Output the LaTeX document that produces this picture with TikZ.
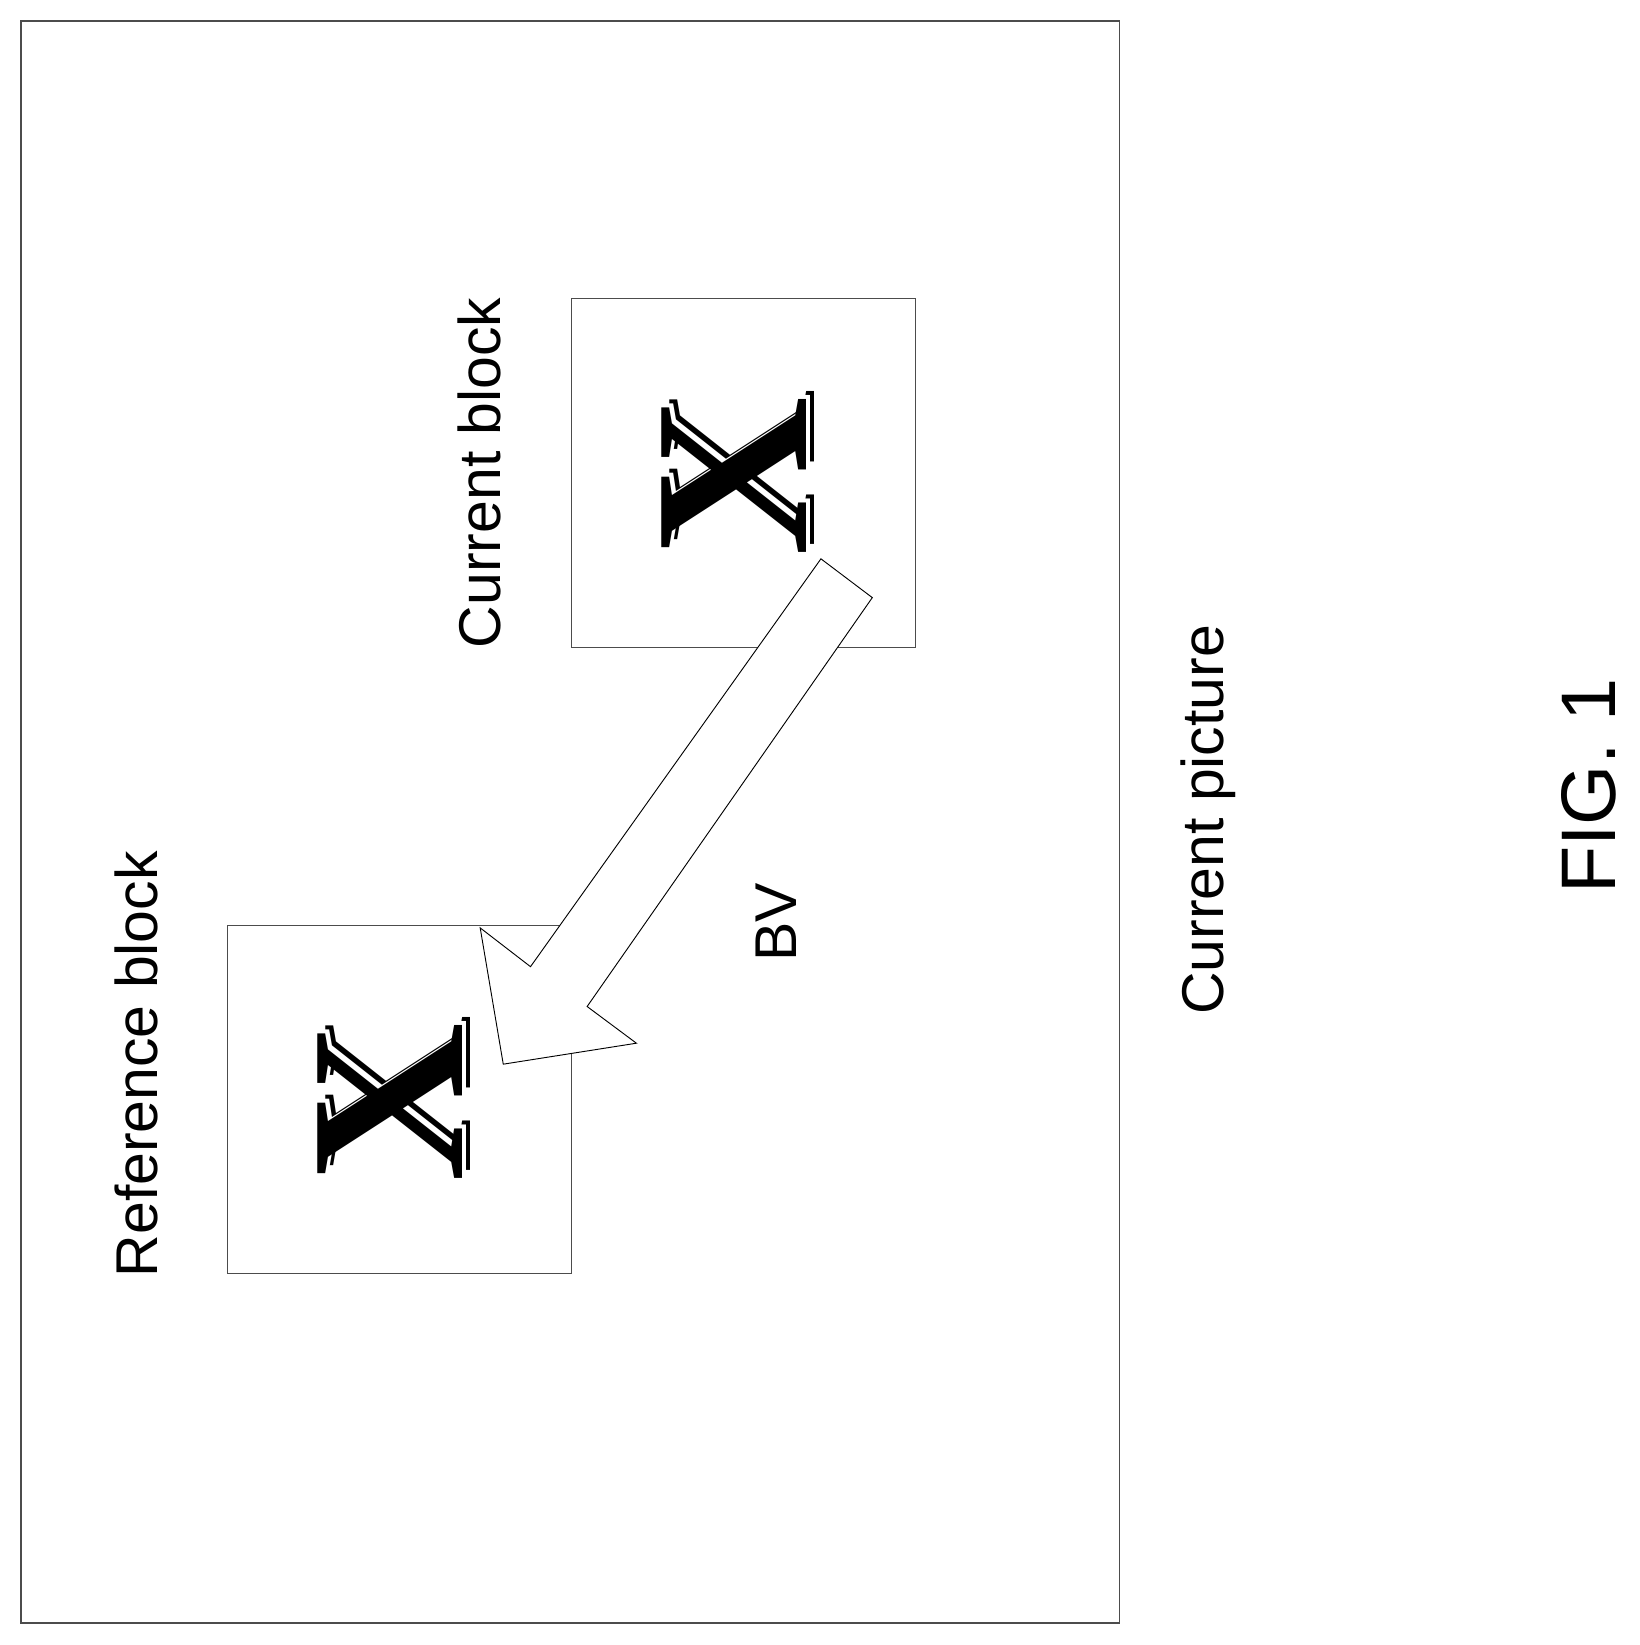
\documentclass[tikz,border=0pt]{standalone}
\usepackage{fontspec}
\setmainfont{Liberation Sans}
\newfontfamily\xfont{Liberation Serif}

\tikzset{
  blockbox/.style={draw=black!70, line width=0.6pt},
  rotlabel/.style={rotate=90, font=\fontsize{32}{34}\selectfont},
  bigx/.style={rotate=90, font=\xfont\bfseries\fontsize{120}{120}\selectfont, inner sep=0pt}
}

\begin{document}
\begin{tikzpicture}[x=0.02cm, y=-0.02cm]
    \useasboundingbox (0,0) rectangle (1564,1569);

    % --- Bild und Bloecke ---
    \draw[blockbox] (20,20) rectangle (1068,1548);
    \draw[blockbox] (545,285) rectangle (873,618);
    \draw[blockbox] (217,883) rectangle (545,1215);

    % --- Symbole in den Bloecken ---
    \node[bigx, black] at (708,447) {X};
    \node[bigx, white] at (704,451) {X};
    \node[bigx, black] (xcur) at (700,455) {X};
    \node[bigx, black] at (380,1044) {X};
    \node[bigx, white] at (376,1048) {X};
    \node[bigx, black] (xref) at (372,1052) {X};

    % --- Blockvektor ---
    \draw[fill=white, line width=0.5pt] (783,533) -- (832,570) -- (560,960) -- (607,995)
        -- (480,1015) -- (458,885) -- (506,922) -- cycle;

    % --- Beschriftungen ---
    \node[rotlabel] (curlabel) at (457,451) {Current block};
    \node[rotlabel] (reflabel) at (130,1015) {Reference block};
    \node[rotlabel] (bv) at (740,880) {BV};
    \node[rotlabel] (pic) at (1152,782) {Current picture};
    \node[rotate=90, font=\fontsize{42}{44}\selectfont] (fig) at (1515,750) {FIG. 1};
\end{tikzpicture}
\end{document}
